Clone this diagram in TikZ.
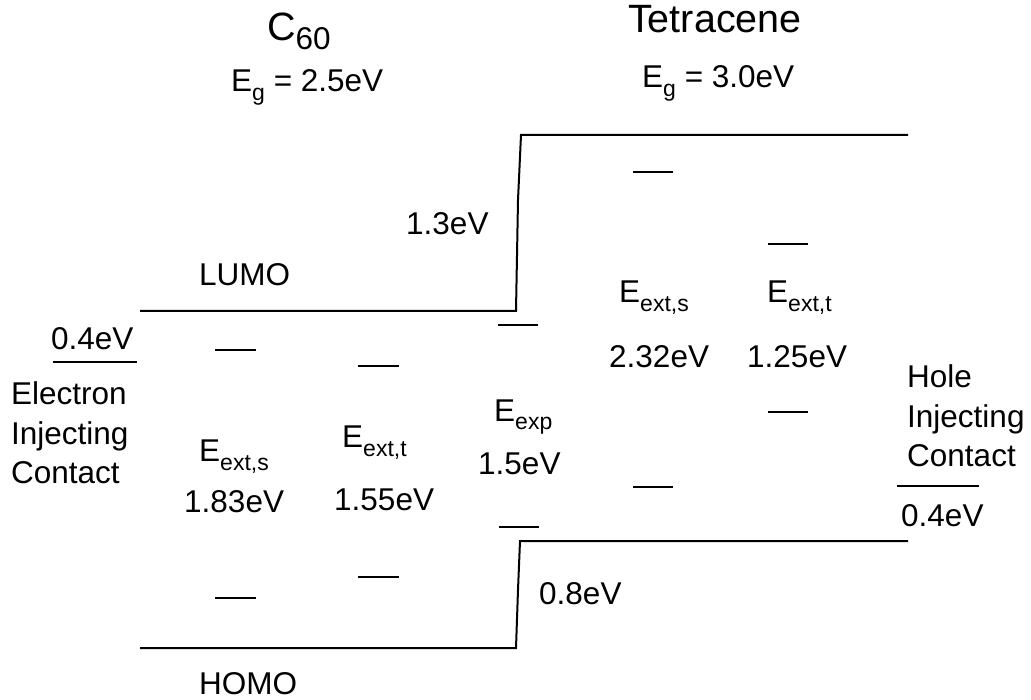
\documentclass[tikz,border=0pt]{standalone}
\usepackage{fontspec}
\setmainfont{Liberation Sans}
\newcommand\sbx[2][23]{\raisebox{-9pt}{\fontsize{#1}{#1}\selectfont #2}}
\begin{document}
\begin{tikzpicture}[x=1pt,y=-1pt,
  lbl/.style={anchor=base west,inner sep=0pt,font=\fontsize{31.5}{38}\selectfont},
  ttl/.style={anchor=base west,inner sep=0pt,font=\fontsize{39.5}{46}\selectfont},
  band/.style={line width=2pt},
  lvl/.style={line width=1.6pt}]
\useasboundingbox (0,0) rectangle (1031,700);
% titles
\node[ttl] (c60) at (267,41) {C\sbx[31.5]{60}};
\node[lbl] (egc) at (231,92) {E\sbx{g} = 2.5eV};
\node[ttl] (tet) at (628,33) {Tetracene};
\node[lbl] (egt) at (642,88) {E\sbx{g} = 3.0eV};
% band edges
\coordinate (l1) at (140,311);
\coordinate (l2) at (516,311);
\coordinate (l3) at (521,135);
\coordinate (l4) at (908,135);
\draw[band] (l1) -- (l2) -- (518,200) -- (l3) -- (l4);
\coordinate (h1) at (140,648);
\coordinate (h2) at (516,648);
\coordinate (h3) at (520,541);
\coordinate (h4) at (908,541);
\draw[band] (h1) -- (h2) -- (518,590) -- (h3) -- (h4);
% contacts
\draw[lvl] (53,362) -- (137,362);
\draw[lvl] (897,486) -- (979,486);
% exciton levels
\draw[lvl] (215,350) -- (256,350);
\draw[lvl] (215,598) -- (256,598);
\draw[lvl] (358,366) -- (399,366);
\draw[lvl] (358,577) -- (399,577);
\draw[lvl] (498,325) -- (538,325);
\draw[lvl] (499,527) -- (539,527);
\draw[lvl] (633,172) -- (673,172);
\draw[lvl] (633,487) -- (673,487);
\draw[lvl] (768,244) -- (808,244);
\draw[lvl] (768,412) -- (808,412);
% labels
\node[lbl] (d13) at (406,235) {1.3eV};
\node[lbl] (lumo) at (199,286) {LUMO};
\node[lbl] (c04l) at (51,350) {0.4eV};
\node[lbl] (el1) at (11,405) {Electron};
\node[lbl] (el2) at (11,444) {Injecting};
\node[lbl] (el3) at (11,483) {Contact};
\node[lbl] (cs) at (199,461) {E\sbx{ext,s}};
\node[lbl] (cse) at (184,512) {1.83eV};
\node[lbl] (ct) at (342,448) {E\sbx{ext,t}};
\node[lbl] (cte) at (334,510) {1.55eV};
\node[lbl] (ex) at (494,421) {E\sbx{exp}};
\node[lbl] (exe) at (478,474) {1.5eV};
\node[lbl] (d08) at (539,604) {0.8eV};
\node[lbl] (homo) at (199,694) {HOMO};
\node[lbl] (ts) at (619,303) {E\sbx{ext,s}};
\node[lbl] (tse) at (609,368) {2.32eV};
\node[lbl] (tt) at (767,303) {E\sbx{ext,t}};
\node[lbl] (tte) at (747,368) {1.25eV};
\node[lbl] (ho1) at (907,388) {Hole};
\node[lbl] (ho2) at (907,428) {Injecting};
\node[lbl] (ho3) at (907,467) {Contact};
\node[lbl] (c04r) at (901,526) {0.4eV};
\end{tikzpicture}
\end{document}
